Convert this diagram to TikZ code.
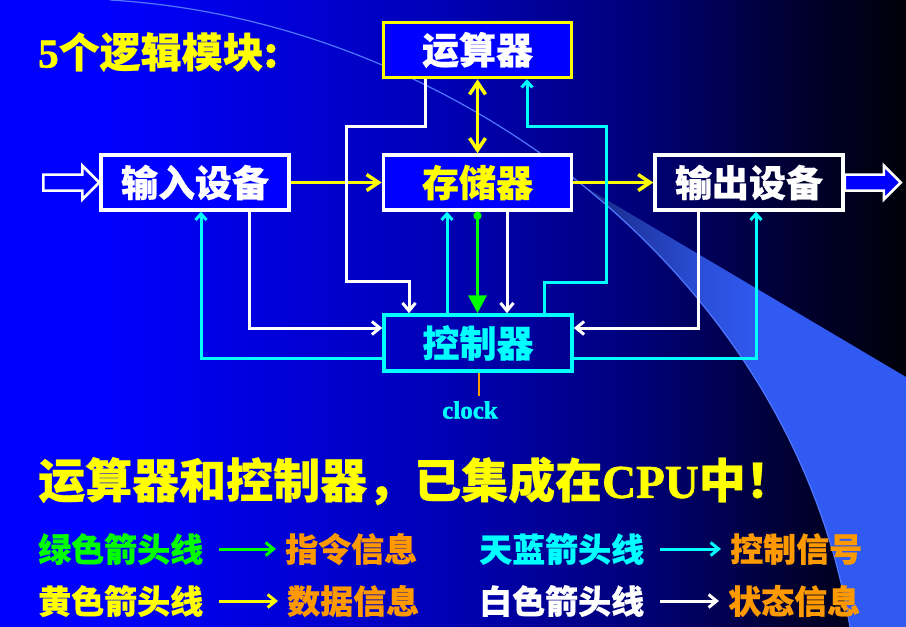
\documentclass[tikz,border=0pt]{standalone}
\usepackage{fontspec}
\setmainfont{Liberation Serif}[BoldFont={Liberation Serif Bold},BoldFeatures={FakeBold=1.5}]
\newfontfamily\cjk{Noto Sans CJK SC}[BoldFeatures={FakeBold=0.6}]
\usetikzlibrary{arrows.meta}
\definecolor{bgA}{RGB}{0,0,255}
\definecolor{bgB}{RGB}{0,0,180}
\definecolor{bgC}{RGB}{0,0,120}
\definecolor{bgD}{RGB}{0,0,55}
\definecolor{bgE}{RGB}{0,0,8}
\definecolor{wedgeA}{RGB}{25,40,130}
\definecolor{wedgeB}{RGB}{42,78,215}
\definecolor{wedgeC}{RGB}{48,90,242}
\definecolor{arcblue}{RGB}{80,120,255}
\definecolor{oranj}{RGB}{255,153,0}
\definecolor{skyc}{RGB}{0,255,255}
\definecolor{yel}{RGB}{255,255,0}
\definecolor{grn}{RGB}{0,255,0}
\definecolor{boxblue}{RGB}{0,0,255}
\pgfdeclarehorizontalshading{bgshade}{100bp}{color(0bp)=(bgA); color(30.5bp)=(bgA); color(49.8bp)=(bgB); color(60.3bp)=(bgC); color(68bp)=(bgD); color(75bp)=(bgE); color(100bp)=(bgE)}
\pgfdeclarehorizontalshading{wedgeshade}{100bp}{color(0bp)=(wedgeA); color(25bp)=(wedgeA); color(43bp)=(wedgeB); color(52.5bp)=(wedgeC); color(100bp)=(wedgeC)}
\begin{document}
\begin{tikzpicture}[x=1pt,y=-1pt,
  box/.style={draw,line width=3.5pt,minimum width=188pt,minimum height=55pt,inner sep=0,font=\cjk\bfseries\fontsize{37}{37}\selectfont},
  leg/.style={anchor=west,inner sep=0,font=\cjk\bfseries\fontsize{33}{33}\selectfont},
  yline/.style={yel,line width=3.5pt,-{Straight Barb[length=12pt,width=16pt]}},
  wline/.style={white,line width=3pt,-{Straight Barb[length=8pt,width=13pt]}},
  cline/.style={skyc,line width=3pt,-{Straight Barb[length=6pt,width=11pt]}},
  gline/.style={grn,line width=3.5pt,{Circle[length=8pt]}-{Triangle[length=18pt,width=18pt]}},
  legarr/.style={line width=3pt,-{Straight Barb[length=8pt,width=13pt]}}]
\useasboundingbox (0,0) rectangle (906,627);
\shade[shading=bgshade] (0,0) rectangle (906,627);
\shade[shading=wedgeshade] (585,187) .. controls (720,297) and (820,448.5) .. (850,627) -- (906,627) -- (906,377) -- cycle;
\draw[arcblue,line width=1.2pt] (110,0) .. controls (450,20) and (790,270) .. (850,627);

\node[anchor=west,inner sep=0,text=yel,font=\fontsize{41}{41}\selectfont] (title) at (38,52) {\textbf{5}{\cjk\bfseries 个逻辑模块:}};

\node[box,draw=yel,fill=boxblue,text=white] (alu) at (477.5,50) {运算器};
\node[box,draw=white,fill=boxblue,text=yel] (mem) at (477.5,182.5) {存储器};
\node[box,draw=white,fill=boxblue,text=white] (inp) at (195,182.5) {输入设备};
\node[box,draw=white,text=white] (outp) at (749,182.5) {输出设备};
\node[box,draw=skyc,text=skyc,minimum height=56pt] (ctrl) at (478,343) {控制器};

\draw[white,line width=2.5pt] (inp.west) ++(-56,-8) -- ++(39,0) -- ++(0,-9) -- (inp.west) -- ++(-17,17) -- ++(0,-9) -- ++(-39,0) -- cycle;
\draw[white,fill=boxblue,line width=2.5pt] (outp.east) ++(0,-8) -- ++(39,0) -- ++(0,-9) -- ++(17,17) -- ++(-17,17) -- ++(0,-9) -- ++(-39,0) -- cycle;

\draw[yline] (inp) -- (mem);
\draw[yline] (mem) -- (outp);
\draw[yline,{Straight Barb[length=12pt,width=16pt]}-{Straight Barb[length=12pt,width=16pt]}] (alu) -- (mem);
\draw[gline] (mem.south) -- (mem.south |- ctrl.north);
\draw[cline] (ctrl.north -| 447,0) -- (mem.south -| 447,0);
\draw[wline] (mem.south -| 507,0) -- (ctrl.north -| 507,0);
\draw[wline] (alu.south -| 425,0) -- (425,126) -| (346,281) -| (ctrl.north -| 409,0);
\draw[cline] (ctrl.north -| 544,0) -- (544,282) -| (606,126) -| (alu.south -| 527,0);
\draw[wline] (inp.south -| 249,0) |- (ctrl.west |- 0,328);
\draw[cline] (ctrl.west |- 0,358) -| (inp.south -| 201,0);
\draw[wline] (outp.south -| 698,0) |- (ctrl.east |- 0,328);
\draw[cline] (ctrl.east |- 0,358) -| (outp.south -| 756,0);

\node[inner sep=0,text=skyc,font=\fontsize{25}{25}\selectfont] (clk) at (470,410) {\textbf{clock}};
\coordinate (clkin) at (479,396);
\draw[oranj,line width=2.5pt] (ctrl.south -| clkin) -- (clkin);

\node[anchor=west,inner sep=0,text=yel,font=\fontsize{47}{47}\selectfont] (cpu) at (38,481) {{\cjk\bfseries 运算器和控制器，已集成在}\textbf{CPU}{\cjk\bfseries 中！}};

\node[leg,text=grn] (g1) at (38,549) {绿色箭头线};
\node[leg,text=oranj] (g2) at (285,549) {指令信息};
\node[leg,text=skyc] (c1) at (479,549) {天蓝箭头线};
\node[leg,text=oranj] (c2) at (730,549) {控制信号};
\node[leg,text=yel] (y1) at (38,601) {黄色箭头线};
\node[leg,text=oranj] (y2) at (287,601) {数据信息};
\node[leg,text=white] (w1) at (479,601) {白色箭头线};
\node[leg,text=oranj] (w2) at (728,601) {状态信息};
\draw[legarr,grn] ([xshift=16pt]g1.east) -- ([xshift=-9pt]g2.west);
\draw[legarr,skyc] ([xshift=16pt]c1.east) -- ([xshift=-9pt]c2.west);
\draw[legarr,yel] ([xshift=16pt]y1.east) -- ([xshift=-9pt]y2.west);
\draw[legarr,white] ([xshift=16pt]w1.east) -- ([xshift=-9pt]w2.west);
\end{tikzpicture}
\end{document}
